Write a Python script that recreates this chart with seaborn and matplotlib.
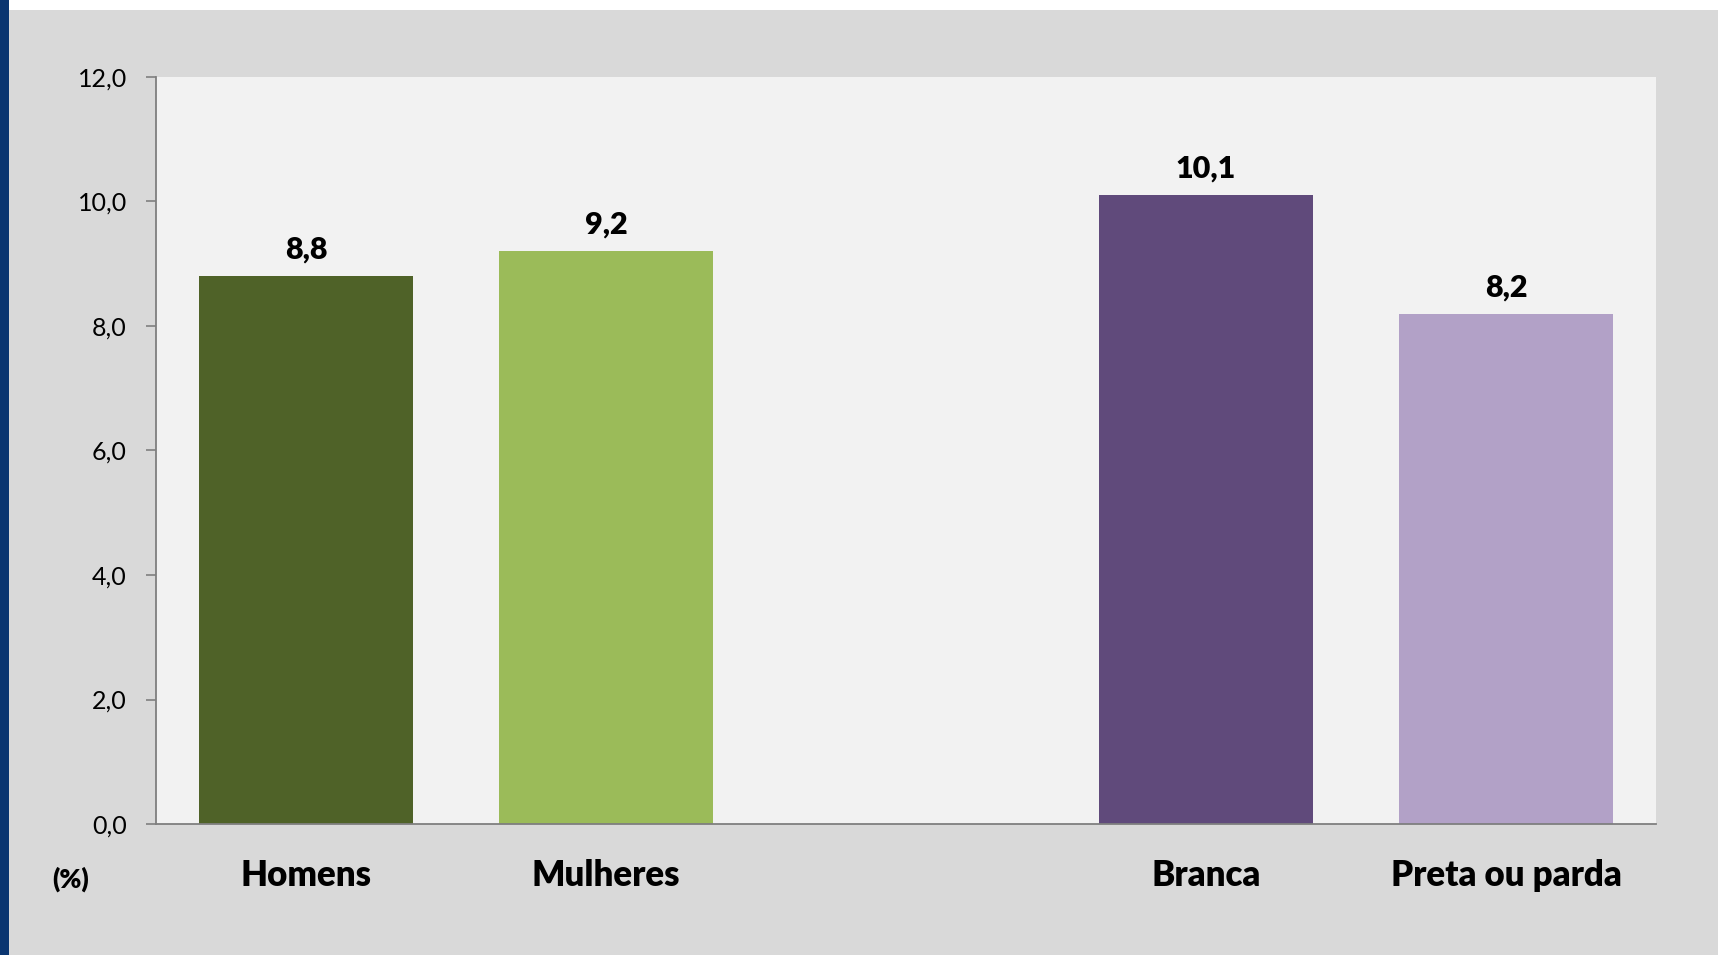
import numpy as np
import pandas as pd
import matplotlib
matplotlib.use("Agg")
import matplotlib.pyplot as plt
import seaborn as sns
from matplotlib.patches import Rectangle

# data
categorias = ['Homens', 'Mulheres', 'Branca', 'Preta ou parda']
valores = [8.8, 9.2, 10.1, 8.2]
ordem = ['Homens', 'Mulheres', ' ', 'Branca', 'Preta ou parda']
cores = ['#4F6228', '#9BBB59', '#604A7B', '#B2A1C7']
yticks = [0, 2, 4, 6, 8, 10, 12]

sns.set_style('white')
plt.rcParams['font.family'] = ['Lato', 'DejaVu Sans']

df = pd.DataFrame({'grupo': categorias, 'valor': valores})

fig = plt.figure(figsize=(17.18, 9.55), dpi=100, facecolor='white')
# gray panel and blue strip on the left
fig.patches.append(Rectangle((9 / 1718, 0), 1, 1 - 10 / 955, transform=fig.transFigure,
                             facecolor='#D9D9D9', edgecolor='none', zorder=-2))
fig.patches.append(Rectangle((0, 0), 9 / 1718, 1, transform=fig.transFigure,
                             facecolor='#0A3570', edgecolor='none', zorder=-1))

ax = fig.add_axes([156 / 1718, 1 - 824 / 955, 1500 / 1718, 747 / 955])
ax.set_facecolor('#F2F2F2')

sns.barplot(data=df, x='grupo', y='valor', order=ordem, hue='grupo',
            palette=dict(zip(categorias, cores)), legend=False,
            width=0.715, saturation=1, linewidth=0, ax=ax)

for i, g in enumerate(ordem):
    if g in categorias:
        v = valores[categorias.index(g)]
        ax.annotate(f'{v:.1f}'.replace('.', ','), (i, v), xytext=(0, 9),
                    textcoords='offset points', ha='center', va='bottom',
                    fontsize=22, fontweight='heavy', color='black')

ax.set_ylim(0, 12)
ax.set_xlim(-0.5, 4.5)
ax.set_yticks(yticks)
ax.set_yticklabels([f'{t:.1f}'.replace('.', ',') for t in yticks], fontsize=18)
ax.set_xticks(range(5))
ax.set_xticklabels(ordem, fontsize=25, fontweight='heavy')
ax.set_xticks(np.arange(-0.5, 5, 1), minor=True)
ax.tick_params(axis='x', which='major', length=0, pad=25, labelcolor='black')
ax.tick_params(axis='x', which='minor', length=9, width=1.2, color='#7F7F7F', direction='out')
ax.tick_params(axis='y', length=7, width=1.2, color='#7F7F7F', direction='out', pad=14,
               left=True, labelcolor='black')
ax.set_xlabel('')
ax.set_ylabel('')

for s in ['top', 'right']:
    ax.spines[s].set_visible(False)
for s in ['left', 'bottom']:
    ax.spines[s].set_color('#7F7F7F')
    ax.spines[s].set_linewidth(1.3)

fig.text(71 / 1718, 1 - 879 / 955, '(%)', fontsize=19, fontweight='heavy',
         ha='center', va='center', color='black')

fig.savefig('out.png', dpi=100, facecolor=fig.get_facecolor())
